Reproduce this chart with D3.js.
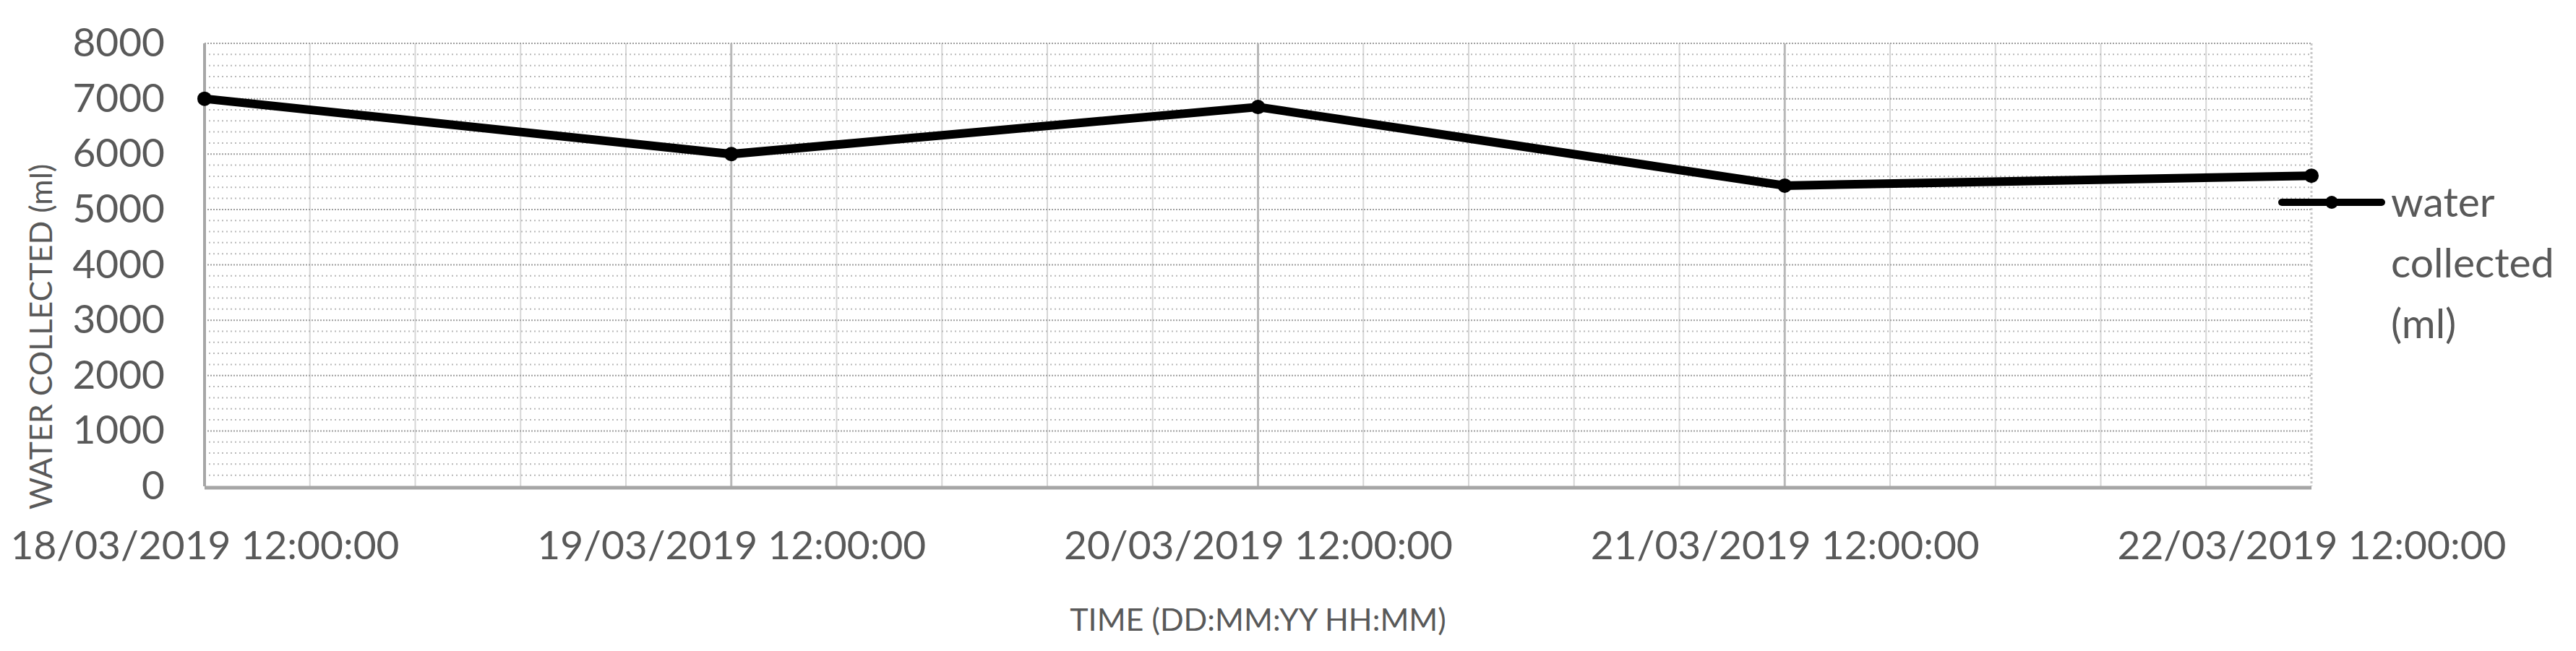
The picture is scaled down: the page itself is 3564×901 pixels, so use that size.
<!DOCTYPE html>
<head>
  <meta charset="utf-8">
  <title>Water collected</title>
  <script src="https://d3js.org/d3.v7.min.js"></script>
  <style>
    body { margin: 0; background: #fff; }
    text { font-family: Lato, "Open Sans", sans-serif; fill: #595959; }
  </style>
</head>
<body>
<script>

  // chart data
  let categories = ["18/03/2019 12:00:00", "19/03/2019 12:00:00", "20/03/2019 12:00:00",
                    "21/03/2019 12:00:00", "22/03/2019 12:00:00"];
  let water_collected = [7000, 6000, 6850, 5430, 5610];
  let y_ticks = [0, 1000, 2000, 3000, 4000, 5000, 6000, 7000, 8000];
  let series_name = ["water", "collected", "(ml)"];

  let width = 3564;
  let height = 901;
  let plot = {left: 283, right: 3198, top: 60, bottom: 673};

  let svg = d3.select("body").append("svg")
      .attr("width", width)
      .attr("height", height);

  let x = d3.scalePoint()
      .domain(categories)
      .range([plot.left, plot.right]);

  let y = d3.scaleLinear()
      .domain([0, 8000])
      .range([plot.bottom, plot.top]);

  let grid = svg.append("g").attr("id", "grid");

  // minor vertical gridlines: five per day
  let minor_x = [];
  for (let i = 0; i < categories.length - 1; i++) {
    for (let k = 1; k < 5; k++) {
      minor_x.push(x(categories[i]) + k * x.step() / 5);
    }
  }
  grid.selectAll(".vminor")
    .data(minor_x)
    .enter()
    .append("line")
    .attr("x1", d => d).attr("x2", d => d)
    .attr("y1", plot.top).attr("y2", plot.bottom)
    .style("stroke", "#d6d6d6")
    .style("stroke-width", 2);

  // minor horizontal gridlines every 200
  let minor_y = d3.range(200, 8000, 200).filter(v => v % 1000 !== 0);
  grid.selectAll(".hminor")
    .data(minor_y)
    .enter()
    .append("line")
    .attr("x1", plot.left).attr("x2", plot.right)
    .attr("y1", d => y(d)).attr("y2", d => y(d))
    .style("stroke", "#b8b8b8")
    .style("stroke-width", 2)
    .style("stroke-dasharray", "2,4");

  // major horizontal gridlines
  grid.selectAll(".hmajor")
    .data(y_ticks.slice(1))
    .enter()
    .append("line")
    .attr("x1", plot.left).attr("x2", plot.right)
    .attr("y1", d => y(d)).attr("y2", d => y(d))
    .style("stroke", "#9e9e9e")
    .style("stroke-width", 2)
    .style("stroke-dasharray", "2,2");

  // major vertical gridlines at each day
  grid.selectAll(".vmajor")
    .data(categories.slice(1))
    .enter()
    .append("line")
    .attr("x1", d => x(d)).attr("x2", d => x(d))
    .attr("y1", plot.top).attr("y2", plot.bottom)
    .style("stroke", d => d === categories[categories.length - 1] ? "#c8c8c8" : "#b8b8b8")
    .style("stroke-width", 3)
    .style("stroke-dasharray", d => d === categories[categories.length - 1] ? "3,3" : null);

  // plot border
  grid.append("line")
    .attr("x1", plot.left).attr("x2", plot.left)
    .attr("y1", plot.top).attr("y2", plot.bottom)
    .style("stroke", "#a6a6a6").style("stroke-width", 4);
  grid.append("line")
    .attr("x1", plot.left).attr("x2", plot.right)
    .attr("y1", plot.bottom + 2).attr("y2", plot.bottom + 2)
    .style("stroke", "#a6a6a6").style("stroke-width", 5);

  // axes
  let y_axis = svg.append("g")
      .attr("transform", "translate(" + plot.left + ",0)")
      .call(d3.axisLeft(y).tickValues(y_ticks).tickFormat(d3.format("d")).tickSize(0).tickPadding(55));
  y_axis.select(".domain").remove();
  y_axis.selectAll("text").style("font-size", "55px").style("fill", "#595959");

  let x_axis = svg.append("g")
      .attr("transform", "translate(0," + plot.bottom + ")")
      .call(d3.axisBottom(x).tickSize(0).tickPadding(62));
  x_axis.select(".domain").remove();
  x_axis.selectAll("text").style("font-size", "55px").style("fill", "#595959");

  // axis titles
  svg.append("text")
    .attr("text-anchor", "middle")
    .attr("x", (plot.left + plot.right) / 2)
    .attr("y", 873)
    .style("font-size", "43px")
    .text("TIME (DD:MM:YY HH:MM)");

  svg.append("text")
    .attr("text-anchor", "middle")
    .attr("transform", "translate(72,466) rotate(-90)")
    .style("font-size", "43px")
    .text("WATER COLLECTED (ml)");

  // the series
  let line = d3.line()
      .x((d, i) => x(categories[i]))
      .y(d => y(d));

  svg.append("path")
    .datum(water_collected)
    .attr("d", line)
    .style("fill", "none")
    .style("stroke", "#000")
    .style("stroke-width", 12)
    .style("stroke-linejoin", "round");

  svg.selectAll(".marker")
    .data(water_collected)
    .enter()
    .append("circle")
    .attr("cx", (d, i) => x(categories[i]))
    .attr("cy", d => y(d))
    .attr("r", 10)
    .style("fill", "#000");

  // legend
  let legend = svg.append("g").attr("transform", "translate(3157,280)");
  legend.append("line")
    .attr("x1", 0).attr("x2", 138)
    .style("stroke", "#000").style("stroke-width", 10)
    .style("stroke-linecap", "round");
  legend.append("circle")
    .attr("cx", 69).attr("r", 9).style("fill", "#000");
  legend.append("text")
    .attr("x", 151)
    .style("font-size", "57px")
    .selectAll("tspan")
    .data(series_name)
    .enter()
    .append("tspan")
    .attr("x", 151)
    .attr("y", (d, i) => 20 + i * 84)
    .text(d => d);

</script>
</body>
